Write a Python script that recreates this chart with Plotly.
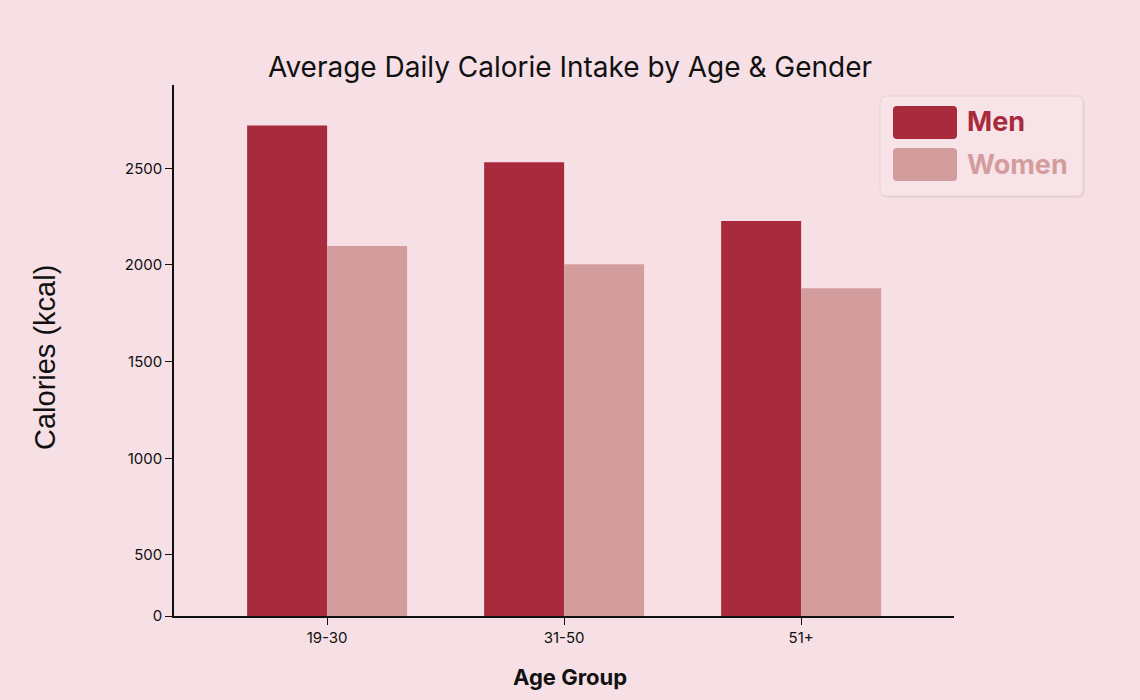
import plotly.graph_objects as go

# -- data
age_groups = ['19-30', '31-50', '51+']
men_kcal = [2722, 2532, 2228]
women_kcal = [2098, 2004, 1880]
series_names = ['Men', 'Women']
series_colors = ['#a82a3d', '#d49d9d']
y_ticks = [184, 500, 1000, 1500, 2000, 2500]
y_tick_text = ['0', '500', '1000', '1500', '2000', '2500']

bg = '#f6e0e5'

# plot area in pixels (1140x700 page)
L, R, T, B = 174, 954, 85, 616
W, H = 1140, 700


def px(x, y):
    # pixel -> paper coords
    return (x - L) / (R - L), (B - y) / (B - T)


def rounded_rect(x0, y0, x1, y1, r):
    pts = []
    a = px(x0 + r, y0); pts.append('M%f,%f' % a)
    a = px(x1 - r, y0); pts.append('L%f,%f' % a)
    c = px(x1, y0); e = px(x1, y0 + r); pts.append('Q%f,%f %f,%f' % (c + e))
    a = px(x1, y1 - r); pts.append('L%f,%f' % a)
    c = px(x1, y1); e = px(x1 - r, y1); pts.append('Q%f,%f %f,%f' % (c + e))
    a = px(x0 + r, y1); pts.append('L%f,%f' % a)
    c = px(x0, y1); e = px(x0, y1 - r); pts.append('Q%f,%f %f,%f' % (c + e))
    a = px(x0, y0 + r); pts.append('L%f,%f' % a)
    c = px(x0, y0); e = px(x0 + r, y0); pts.append('Q%f,%f %f,%f' % (c + e))
    pts.append('Z')
    return ' '.join(pts)


fig = go.Figure()
for name, vals, col in zip(series_names, [men_kcal, women_kcal], series_colors):
    fig.add_trace(go.Bar(x=age_groups, y=vals, name=name, marker_color=col,
                         marker_line_width=0, showlegend=False))

fig.update_layout(
    width=W, height=H,
    paper_bgcolor=bg, plot_bgcolor=bg,
    margin=dict(l=L, r=W - R, t=T, b=H - B, pad=0),
    barmode='group', bargap=0.325, bargroupgap=0,
    font=dict(family='Inter, Roboto, sans-serif', color='#111', size=15),
)
fig.update_xaxes(range=[-0.646, 2.645], showline=True, linecolor='#111', linewidth=1.5,
                 ticks='outside', ticklen=7, tickcolor='#111', showgrid=False,
                 tickfont=dict(size=15, color='#111'), fixedrange=True)
fig.update_yaxes(range=[184, 2931], tickvals=y_ticks, ticktext=y_tick_text,
                 showline=True, linecolor='#111', linewidth=1.5, zeroline=False,
                 ticks='outside', ticklen=7, tickcolor='#111', showgrid=False,
                 tickfont=dict(size=15, color='#111'))

ann = []
shapes = []
# title and axis titles
tx, ty = px(570, 67)
ann.append(dict(text='Average Daily Calorie Intake by Age & Gender', x=tx, y=ty,
                xref='paper', yref='paper', xanchor='center', yanchor='middle',
                showarrow=False,
                font=dict(size=28, color='#111', family='Inter, sans-serif')))
tx, ty = px(570, 677)
ann.append(dict(text='<b>Age Group</b>', x=tx, y=ty, xref='paper', yref='paper',
                xanchor='center', yanchor='middle',
                showarrow=False, font=dict(size=22, color='#111')))
tx, ty = px(45, 358)
ann.append(dict(text='Calories (kcal)', x=tx, y=ty, xref='paper', yref='paper',
                xanchor='center', yanchor='middle',
                showarrow=False, textangle=-90,
                font=dict(size=29, color='#111', family='Liberation Sans, Arial, sans-serif')))

# legend box
shapes.append(dict(type='path', xref='paper', yref='paper',
                   path=rounded_rect(881, 97, 1085, 198, 7),
                   fillcolor='rgba(120,60,70,0.08)', line_width=0))
shapes.append(dict(type='path', xref='paper', yref='paper',
                   path=rounded_rect(880, 96, 1083, 196, 7),
                   fillcolor='#f8e3e8', line=dict(color='#ead0d6', width=1)))
for i, (name, col) in enumerate(zip(series_names, series_colors)):
    y0 = 106 + i * 42
    shapes.append(dict(type='path', xref='paper', yref='paper',
                       path=rounded_rect(893, y0, 957, y0 + 33, 4),
                       fillcolor=col, line_width=0))
    lx, ly = px(965, y0 + 16)
    ann.append(dict(text='<b>%s</b>' % name, x=lx, y=ly, xref='paper', yref='paper',
                    xanchor='left', yanchor='middle', showarrow=False,
                    font=dict(size=27, color=col, family='Inter, sans-serif')))

fig.update_layout(annotations=ann, shapes=shapes)
fig.write_html('out.html', config={'displayModeBar': False},
               post_script="document.body.style.margin='0';")
